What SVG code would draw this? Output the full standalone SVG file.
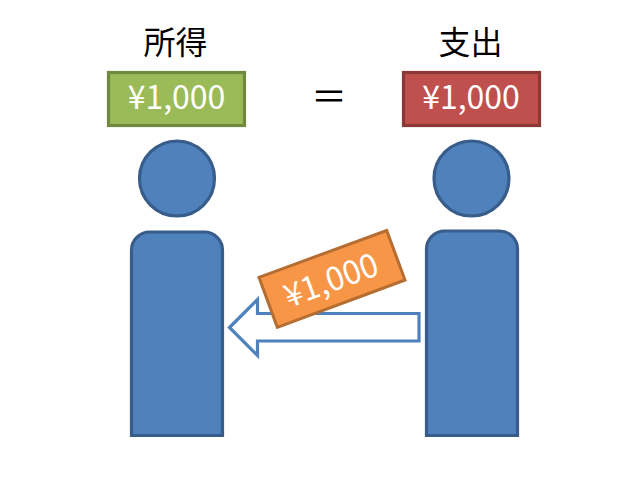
<svg xmlns="http://www.w3.org/2000/svg" width="640" height="480" viewBox="0 0 640 480">
<style>
.person{fill:#4f81bd;stroke:#385d8a;stroke-width:3.200}
.lbl{font-family:"Noto Sans CJK JP","Noto Sans CJK SC",sans-serif;font-size:32px;fill:#000;text-anchor:middle}
.yen{font-family:"Noto Sans CJK JP","Noto Sans",sans-serif;font-size:32px;fill:#fff;text-anchor:middle}
</style>
<rect width="640" height="480" fill="#fff"/>
<g id="label-income"><text class="lbl" x="175.500" y="54">所得</text></g>
<g id="label-spending"><text class="lbl" x="470.500" y="54">支出</text></g>
<g id="equals"><text class="lbl" x="329" y="110" style="font-size:36px">＝</text></g>
<g id="box-income"><rect x="108.500" y="72.500" width="136" height="53" fill="#9bbb59" stroke="#71893f" stroke-width="3.200"/><text class="yen" x="176.500" y="109">¥1,000</text></g>
<g id="box-spending"><rect x="403.500" y="72.500" width="136" height="53" fill="#c0504d" stroke="#8c3836" stroke-width="3.200"/><text class="yen" x="471" y="109">¥1,000</text></g>
<g id="person-left"><circle class="person" cx="177" cy="178.500" r="37.500"/><path class="person" d="M131.500 435.500V250a18 18 0 0 1 18-18h55a18 18 0 0 1 18 18V435.500Z"/></g>
<g id="person-right"><circle class="person" cx="471.500" cy="178.500" r="37.500"/><path class="person" d="M426.500 435.500V249a18 18 0 0 1 18-18h55a18 18 0 0 1 18 18V435.500Z"/></g>
<g id="connectors"><path d="M229.500 327.500L257.500 299.500V313.500H419V341H257.500V355.500Z" fill="#fff" stroke="#4f81bd" stroke-width="3.200"/></g>
<g id="bill"><path d="M259 277.300L386.700 230.500L405 280L277.300 327.300Z" fill="#f79646" stroke="#b66d31" stroke-width="3"/><text class="yen" x="0" y="0" transform="translate(335 291) rotate(-20.300)">¥1,000</text></g>
</svg>
